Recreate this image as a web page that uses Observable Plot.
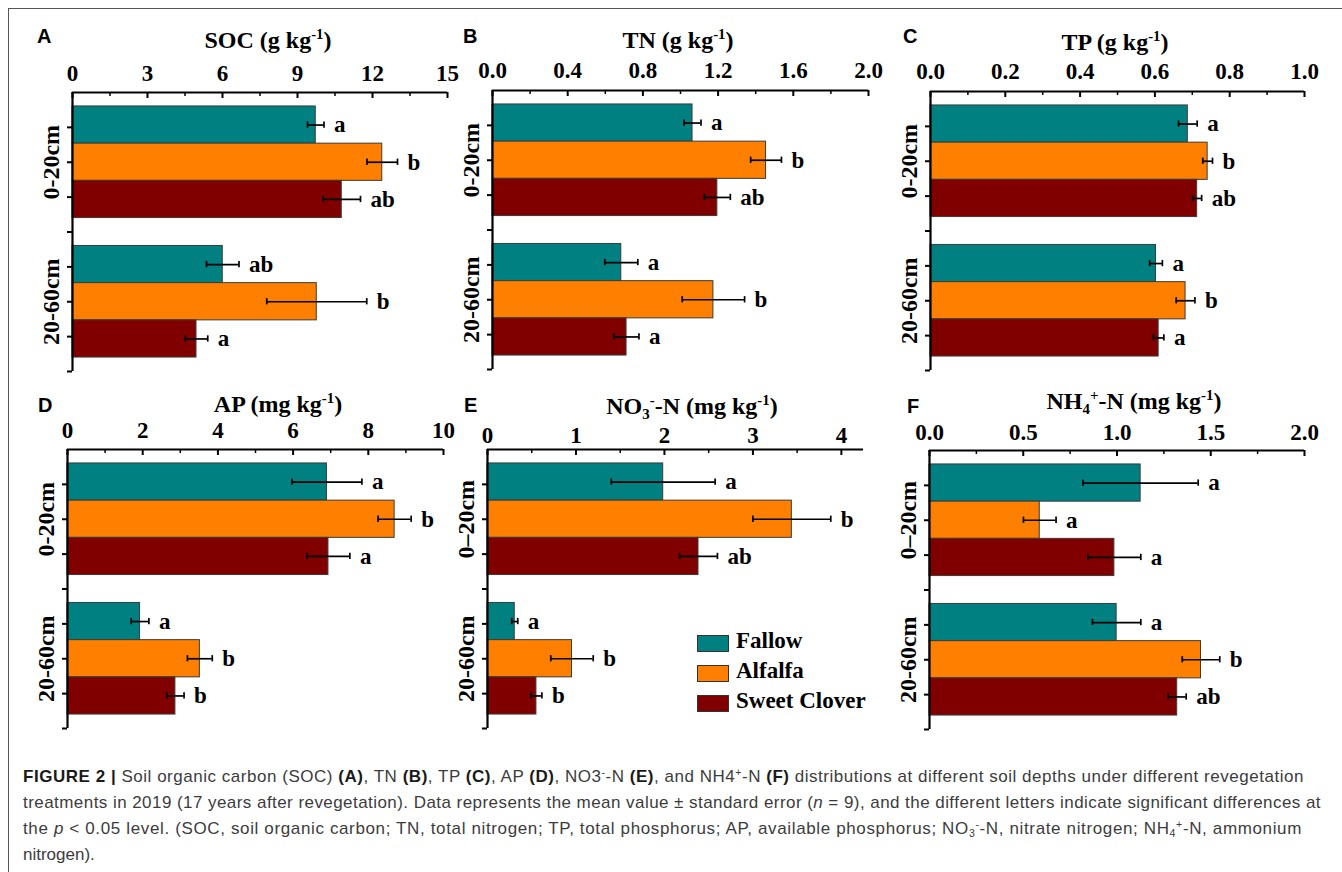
<!DOCTYPE html>
<html>
<head>
<meta charset="utf-8">
<script src="https://cdn.jsdelivr.net/npm/d3@7"></script>
<script src="https://cdn.jsdelivr.net/npm/@observablehq/plot@0.6"></script>
<style>
  html, body { margin: 0; padding: 0; background: #fff; }
  body { width: 1342px; height: 872px; position: relative; overflow: hidden; }
  .abs { position: absolute; white-space: nowrap; }
  .frameTop { position: absolute; left: 8px; top: 8px; width: 1334px; height: 0; border-top: 1.5px solid #555; }
  .frameLeft { position: absolute; left: 8px; top: 8px; width: 0; height: 864px; border-left: 1.5px solid #555; }
  .title { font-family: "Liberation Serif", "Times New Roman", serif; font-weight: bold; font-size: 24px; line-height: 24px; color: #000; transform: translateX(-50%); }
  .title sup, .title sub, .caption sup, .caption sub { font-size: 0.62em; line-height: 0; position: relative; vertical-align: baseline; }
  .title sup { top: -0.62em; }
  .title sub { top: 0.32em; }
  .letter { font-family: "Liberation Sans", Arial, sans-serif; font-weight: bold; font-size: 20px; line-height: 20px; color: #000; }
  .legend { font-family: "Liberation Serif", "Times New Roman", serif; font-weight: bold; font-size: 23px; line-height: 23px; color: #000; }
  .swatch { position: absolute; width: 30px; height: 15px; border: 1px solid #333; }
  .caption { font-family: "Liberation Sans", Arial, sans-serif; font-size: 17px; line-height: 16px; color: #3c3c3c; left: 23px; }
  .caption b { color: #1a1a1a; }
  .caption sup { top: -0.55em; }
  .caption sub { top: 0.3em; }
</style>
</head>
<body>
<div class="frameTop"></div>
<div class="frameLeft"></div>
<div id="root"></div>
<script>
// ---------------- data ----------------
const treatments = ["Fallow", "Alfalfa", "Sweet Clover"];
const treatmentColors = ["#008080", "#ff8000", "#800000"];
const depthsHyphen = ["0-20cm", "20-60cm"];
const depthsDash = ["0\u201320cm", "20-60cm"];

// order: 0-20cm (Fallow, Alfalfa, Sweet Clover), 20-60cm (Fallow, Alfalfa, Sweet Clover)
const socMean = [9.73, 12.39, 10.77, 6.01, 9.77, 4.96];
const socSE   = [0.33, 0.61, 0.75, 0.65, 2.00, 0.45];
const socSig  = ["a", "b", "ab", "ab", "b", "a"];

const tnMean = [1.064, 1.455, 1.196, 0.685, 1.175, 0.713];
const tnSE   = [0.045, 0.082, 0.069, 0.088, 0.166, 0.066];
const tnSig  = ["a", "b", "ab", "a", "b", "a"];

const tpMean = [0.688, 0.741, 0.713, 0.603, 0.682, 0.610];
const tpSE   = [0.025, 0.013, 0.012, 0.017, 0.025, 0.014];
const tpSig  = ["a", "b", "ab", "a", "b", "a"];

const apMean = [6.90, 8.70, 6.94, 1.93, 3.52, 2.87];
const apSE   = [0.93, 0.44, 0.57, 0.235, 0.33, 0.23];
const apSig  = ["a", "b", "a", "a", "b", "b"];

const no3Mean = [1.986, 3.44, 2.385, 0.308, 0.955, 0.553];
const no3SE   = [0.587, 0.44, 0.214, 0.034, 0.24, 0.062];
const no3Sig  = ["a", "b", "ab", "a", "b", "b"];

const nh4Mean = [1.126, 0.588, 0.986, 0.998, 1.448, 1.321];
const nh4SE   = [0.307, 0.087, 0.141, 0.129, 0.100, 0.048];
const nh4Sig  = ["a", "a", "a", "a", "b", "ab"];

const socTicks = [0, 3, 6, 9, 12, 15];
const socMinor = [1.5, 4.5, 7.5, 10.5, 13.5];
const tnTicks = [0, 0.4, 0.8, 1.2, 1.6, 2.0];
const tnMinor = [0.2, 0.6, 1.0, 1.4, 1.8];
const tpTicks = [0, 0.2, 0.4, 0.6, 0.8, 1.0];
const tpMinor = [0.1, 0.3, 0.5, 0.7, 0.9];
const apTicks = [0, 2, 4, 6, 8, 10];
const apMinor = [1, 3, 5, 7, 9];
const no3Ticks = [0, 1, 2, 3, 4];
const no3Minor = [0.5, 1.5, 2.5, 3.5];
const nh4Ticks = [0, 0.5, 1.0, 1.5, 2.0];
const nh4Minor = [0.25, 0.75, 1.25, 1.75];

const titles = [
  "SOC (g kg<sup>-1</sup>)",
  "TN (g kg<sup>-1</sup>)",
  "TP (g kg<sup>-1</sup>)",
  "AP (mg kg<sup>-1</sup>)",
  "NO<sub>3</sub><sup>-</sup>-N (mg kg<sup>-1</sup>)",
  "NH<sub>4</sub><sup>+</sup>-N (mg kg<sup>-1</sup>)"
];
const panelLetters = ["A", "B", "C", "D", "E", "F"];

// ---------------- layout ----------------
const fmtInt = d3.format("d");
const fmt1 = d3.format(".1f");
const panels = [
  {mean: socMean, se: socSE, sig: socSig, ticks: socTicks, minor: socMinor, max: 15, fmt: fmtInt, depths: depthsHyphen,
   x0: 72, x1: 447, axisY: 92, tickGap: 12, titleX: 268, titleBase: 48, letterX: 37, letterBase: 43},
  {mean: tnMean, se: tnSE, sig: tnSig, ticks: tnTicks, minor: tnMinor, max: 2, fmt: fmt1, depths: depthsHyphen,
   x0: 492, x1: 868, axisY: 90, tickGap: 12.5, titleX: 678, titleBase: 48, letterX: 463, letterBase: 43},
  {mean: tpMean, se: tpSE, sig: tpSig, ticks: tpTicks, minor: tpMinor, max: 1, fmt: fmt1, depths: depthsHyphen,
   x0: 930, x1: 1304, axisY: 91, tickGap: 13, titleX: 1115, titleBase: 50, letterX: 903, letterBase: 43},
  {mean: apMean, se: apSE, sig: apSig, ticks: apTicks, minor: apMinor, max: 10, fmt: fmtInt, depths: depthsHyphen,
   x0: 67, x1: 443, axisY: 449, tickGap: 11.5, titleX: 278, titleBase: 412, letterX: 38, letterBase: 412},
  {mean: no3Mean, se: no3SE, sig: no3Sig, ticks: no3Ticks, minor: no3Minor, max: 4.25, fmt: fmtInt, depths: depthsDash,
   x0: 487, x1: 863, axisY: 448.5, tickGap: 7, titleX: 692, titleBase: 414, letterX: 464, letterBase: 412},
  {mean: nh4Mean, se: nh4SE, sig: nh4Sig, ticks: nh4Ticks, minor: nh4Minor, max: 2, fmt: fmt1, depths: depthsDash,
   x0: 929, x1: 1304, axisY: 449.5, tickGap: 11, titleX: 1134, titleBase: 409, letterX: 907, letterBase: 413}
];

const ML = 70, MT = 70, MR = 60, MB = 14, H = 279;
const groupCenters = [2, 6];
const groupHalf = 1.6;
const yTicks = [1, 2, 3, 4, 5, 6, 7, 8];
const capHalf = 0.09;
const serif = '"Liberation Serif", "Times New Roman", serif';

const root = document.getElementById("root");

panels.forEach((p, pi) => {
  const W = p.x1 - p.x0;
  const bh = 2 * groupHalf / treatments.length;
  const rows = [];
  p.depths.forEach((dep, di) => treatments.forEach((t, ti) => {
    const k = di * treatments.length + ti;
    const y1 = groupCenters[di] - groupHalf + ti * bh;
    rows.push({depth: dep, treatment: t, mean: p.mean[k], se: p.se[k], sig: p.sig[k], y1, y2: y1 + bh, yc: y1 + bh / 2});
  }));
  const depthRows = p.depths.map((d, i) => ({label: d, c: groupCenters[i]}));

  const chart = Plot.plot({
    width: ML + W + MR,
    height: MT + H + MB,
    marginLeft: ML, marginRight: MR, marginTop: MT, marginBottom: MB,
    x: {domain: [0, p.max], label: null},
    y: {domain: [0, 8], reverse: true, label: null},
    color: {domain: treatments, range: treatmentColors},
    style: {fontFamily: serif, fontSize: "23px", fontWeight: "bold", color: "#000", background: "transparent", overflow: "visible"},
    marks: [
      Plot.rect(rows, {x1: 0, x2: "mean", y1: "y1", y2: "y2", fill: "treatment", stroke: "#3a3a3a", strokeWidth: 1}),
      Plot.ruleY(rows, {y: "yc", x1: d => d.mean - d.se, x2: d => d.mean + d.se, stroke: "#000", strokeWidth: 1.7}),
      Plot.ruleX(rows, {x: d => d.mean - d.se, y1: d => d.yc - capHalf, y2: d => d.yc + capHalf, stroke: "#000", strokeWidth: 1.7}),
      Plot.ruleX(rows, {x: d => d.mean + d.se, y1: d => d.yc - capHalf, y2: d => d.yc + capHalf, stroke: "#000", strokeWidth: 1.7}),
      Plot.text(rows, {x: d => d.mean + d.se, y: "yc", text: "sig", dx: 10, textAnchor: "start", fill: "#000"}),
      Plot.ruleX([0], {stroke: "#000", strokeWidth: 2.2}),
      Plot.ruleY([0], {stroke: "#000", strokeWidth: 2.2}),
      Plot.ruleX(p.ticks, {insetBottom: H - 6, stroke: "#000", strokeWidth: 2}),
      Plot.ruleX(p.minor, {insetBottom: H - 4, stroke: "#000", strokeWidth: 1.5}),
      Plot.axisX({anchor: "top", ticks: p.ticks, tickSize: 0, tickPadding: p.tickGap, tickFormat: p.fmt, fill: "#000", label: null}),
      Plot.axisY({anchor: "left", ticks: yTicks, tickSize: 5, tickFormat: () => "", stroke: "#000", strokeWidth: 2, label: null}),
      Plot.text(depthRows, {x: 0, y: "c", text: "label", rotate: -90, dx: -21.5, fontSize: 24, fill: "#000"})
    ]
  });

  const box = document.createElement("div");
  box.className = "abs";
  box.style.left = (p.x0 - ML) + "px";
  box.style.top = (p.axisY - MT) + "px";
  box.style.width = (ML + W + MR) + "px";
  box.appendChild(chart);
  root.appendChild(box);

  const title = document.createElement("div");
  title.className = "abs title";
  title.innerHTML = titles[pi];
  title.style.left = p.titleX + "px";
  title.style.top = (p.titleBase - 20) + "px";
  root.appendChild(title);

  const letter = document.createElement("div");
  letter.className = "abs letter";
  letter.textContent = panelLetters[pi];
  letter.style.left = p.letterX + "px";
  letter.style.top = (p.letterBase - 17) + "px";
  root.appendChild(letter);
});

// legend (inside panel E)
const legendLeft = 697, legendTop = 635, legendStep = 30;
treatments.forEach((t, i) => {
  const sw = document.createElement("div");
  sw.className = "swatch";
  sw.style.left = legendLeft + "px";
  sw.style.top = (legendTop + i * legendStep) + "px";
  sw.style.background = treatmentColors[i];
  root.appendChild(sw);
  const lab = document.createElement("div");
  lab.className = "abs legend";
  lab.textContent = t;
  lab.style.left = (legendLeft + 39) + "px";
  lab.style.top = (legendTop - 6 + i * legendStep) + "px";
  root.appendChild(lab);
});

// caption
const captionLines = [
  "<b>FIGURE 2 |</b> Soil organic carbon (SOC) <b>(A)</b>, TN <b>(B)</b>, TP <b>(C)</b>, AP <b>(D)</b>, NO3<sup>-</sup>-N <b>(E)</b>, and NH4<sup>+</sup>-N <b>(F)</b> distributions at different soil depths under different revegetation",
  "treatments in 2019 (17 years after revegetation). Data represents the mean value \u00b1 standard error (<i>n</i> = 9), and the different letters indicate significant differences at",
  "the <i>p</i> &lt; 0.05 level. (SOC, soil organic carbon; TN, total nitrogen; TP, total phosphorus; AP, available phosphorus; NO<sub>3</sub><sup>-</sup>-N, nitrate nitrogen; NH<sub>4</sub><sup>+</sup>-N, ammonium",
  "nitrogen)."
];
const captionBase = [783, 809, 835, 861];
const captionRight = [1304, 1321, 1302, null];
captionLines.forEach((html, i) => {
  const el = document.createElement("div");
  el.className = "abs caption";
  el.innerHTML = html;
  el.style.top = (captionBase[i] - 14) + "px";
  root.appendChild(el);
  if (captionRight[i]) {
    const natural = el.getBoundingClientRect().width;
    const target = captionRight[i] - 23;
    const chars = el.textContent.length;
    el.style.letterSpacing = ((target - natural) / chars) + "px";
  }
});
</script>
</body>
</html>
